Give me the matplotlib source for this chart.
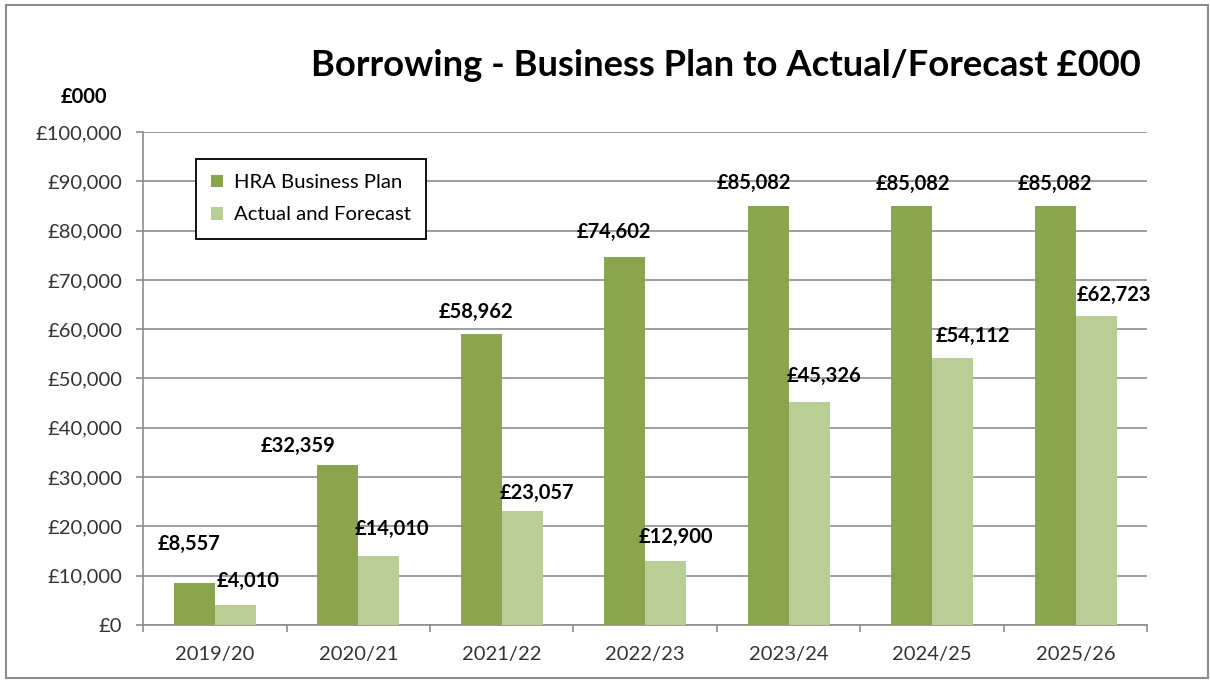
import matplotlib.pyplot as plt
from matplotlib.patches import Rectangle
from matplotlib.ticker import FuncFormatter, MultipleLocator
import numpy as np

years = ['2019/20', '2020/21', '2021/22', '2022/23', '2023/24', '2024/25', '2025/26']
business_plan = [8557, 32359, 58962, 74602, 85082, 85082, 85082]
actual_forecast = [4010, 14010, 23057, 12900, 45326, 54112, 62723]

# label nudges in pixels (Excel placed them by hand)
plan_dx = [-5, -40, -5, -11, -14, 1, 0]
plan_dy = [39, 19, 22, 25, 23, 22, 22]
actual_dx = [13, 13, 15, 10, 15, 20, 18]
actual_dy = [24, 27, 18, 24, 26, 22, 21]

dark_green = '#8AA54E'
light_green = '#B9CD96'
grid_grey = '#8C8C8C'

plt.rcParams['font.family'] = ['Lato', 'DejaVu Sans']

fig = plt.figure(figsize=(12.1, 6.8), dpi=100)
ax = fig.add_axes([0.1182, 0.0809, 0.8301, 0.725])

x = np.arange(len(years))
w = 0.286
ax.bar(x - w / 2, business_plan, w, color=dark_green, label='HRA Business Plan', zorder=3)
ax.bar(x + w / 2, actual_forecast, w, color=light_green, label='Actual and Forecast', zorder=3)

px = 0.72
for i in range(len(years)):
    ax.annotate(f'£{business_plan[i]:,}', xy=(x[i] - w / 2, business_plan[i]),
                xytext=(plan_dx[i] * px, plan_dy[i] * px), textcoords='offset points',
                ha='center', va='center', fontsize=14.5, fontweight='bold', color='black', zorder=5)
    ax.annotate(f'£{actual_forecast[i]:,}', xy=(x[i] + w / 2, actual_forecast[i]),
                xytext=(actual_dx[i] * px, actual_dy[i] * px), textcoords='offset points',
                ha='center', va='center', fontsize=14.5, fontweight='bold', color='black', zorder=5)

ax.set_xlim(-0.5, len(years) - 0.5)
ax.set_ylim(0, 100000)
ax.yaxis.set_major_locator(MultipleLocator(10000))
ax.yaxis.set_major_formatter(FuncFormatter(lambda v, p: f'£{int(v):,}'))
ax.grid(axis='y', color=grid_grey, linewidth=1.2, zorder=0)
ax.set_axisbelow(True)

ax.set_xticks(x)
ax.set_xticklabels(years)
ax.set_xticks(np.arange(-0.5, len(years), 1), minor=True)
ax.tick_params(axis='x', which='major', length=0, pad=15, labelsize=14.5, labelcolor='#333333')
ax.tick_params(axis='x', which='minor', length=5, width=1.2, color=grid_grey, direction='out')
ax.tick_params(axis='y', length=5, width=1.2, color=grid_grey, pad=10, labelsize=14.5, labelcolor='#333333')

for s in ['top', 'right']:
    ax.spines[s].set_visible(False)
for s in ['left', 'bottom']:
    ax.spines[s].set_color(grid_grey)
    ax.spines[s].set_linewidth(1.2)

leg = ax.legend(loc='upper left', bbox_to_anchor=(196 / 1210, 1 - 159 / 680),
                bbox_transform=fig.transFigure, fontsize=14.6, fancybox=False,
                edgecolor='black', framealpha=1, handlelength=0.6, handleheight=0.6,
                handletextpad=0.5, borderpad=0.75, labelspacing=0.75, borderaxespad=0)
leg.get_frame().set_linewidth(1.3)

fig.text(726 / 1210, 1 - 66 / 680, 'Borrowing - Business Plan to Actual/Forecast £000',
         ha='center', va='center', fontsize=26.2, fontweight='bold')
fig.text(84 / 1210, 1 - 97 / 680, '£000', ha='center', va='center', fontsize=14.5, fontweight='bold')

fig.patches.append(Rectangle((6 / 1210, 2 / 680), 1202 / 1210, 673 / 680, transform=fig.transFigure,
                             fill=False, edgecolor='#8C8C8C', linewidth=1.5))

fig.savefig('out.png', dpi=100)
